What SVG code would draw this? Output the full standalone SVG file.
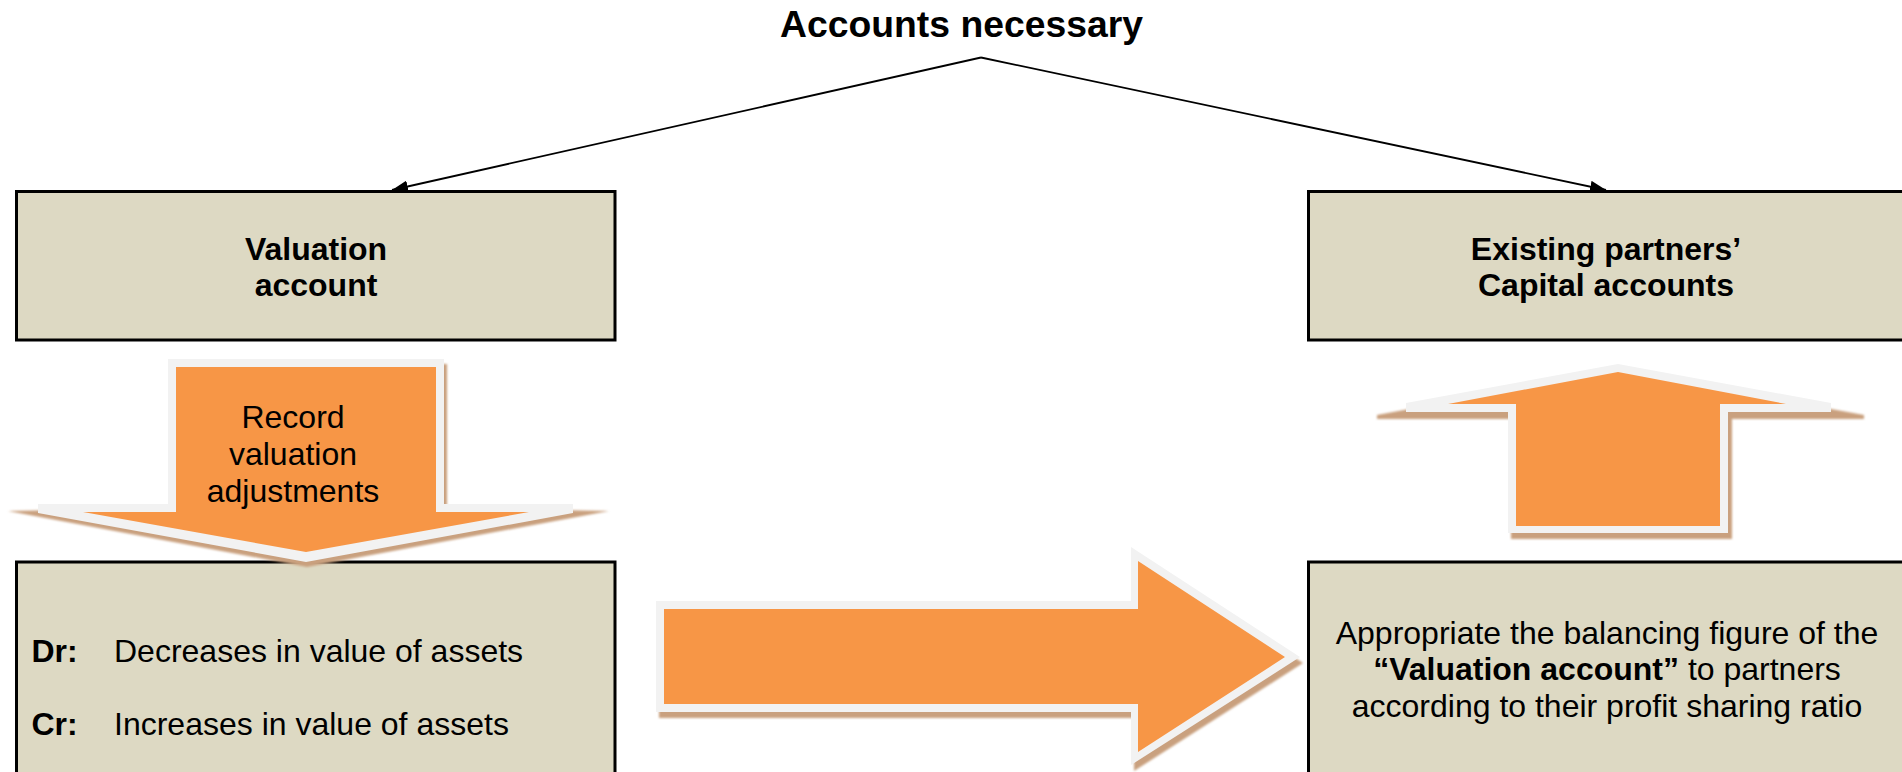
<svg xmlns="http://www.w3.org/2000/svg" width="1902" height="772" viewBox="0 0 1902 772">
  <style>
    text { font-family: "Liberation Sans", Arial, sans-serif; fill: #000; }
    .title { font-size: 37.3px; font-weight: bold; }
    .head { font-size: 32px; font-weight: bold; }
    .body { font-size: 32px; }
    .b { font-weight: bold; }
    .box { fill: #DDD9C3; stroke: #000; stroke-width: 3; }
    .conn { fill: none; stroke: #000; stroke-width: 1.8; }
    .shadow { fill: #C9A07E; filter: url(#soft); }
    .rim { fill: #F2F2F2; }
    .orange { fill: #F79646; }
  </style>
  <defs>
    <marker id="arrowhead" viewBox="0 0 16 12" refX="16" refY="6" markerWidth="16" markerHeight="12" markerUnits="userSpaceOnUse" orient="auto">
      <path d="M0,0 L16,6 L0,12 z" fill="#000"/>
    </marker>
    <filter id="soft" x="-10%" y="-10%" width="120%" height="120%">
      <feGaussianBlur stdDeviation="1.3"/>
    </filter>
  </defs>

  <rect width="1902" height="772" fill="#fff"/>

  <g id="title">
    <text class="title" x="961.5" y="36.5" text-anchor="middle">Accounts necessary</text>
  </g>

  <g id="connectors">
    <line class="conn" x1="981" y1="57.5" x2="392" y2="190" marker-end="url(#arrowhead)"/>
    <line class="conn" x1="981" y1="57.5" x2="1606" y2="190" marker-end="url(#arrowhead)"/>
  </g>

  <g id="valuation-account">
    <rect class="box" x="16.5" y="191.5" width="598.5" height="148.5"/>
    <text class="head" x="316" y="259.5" text-anchor="middle">Valuation</text>
    <text class="head" x="316" y="296" text-anchor="middle">account</text>
  </g>

  <g id="capital-accounts">
    <rect class="box" x="1308.5" y="191.5" width="598" height="148.5"/>
    <text class="head" x="1606" y="259.5" text-anchor="middle">Existing partners’</text>
    <text class="head" x="1606" y="296" text-anchor="middle">Capital accounts</text>
  </g>

  <g id="valuation-details">
    <rect class="box" x="16.5" y="562" width="598.5" height="240"/>
    <text class="body b" x="31.5" y="661.5">Dr:</text>
    <text class="body" x="114" y="661.5">Decreases in value of assets</text>
    <text class="body b" x="31.5" y="735">Cr:</text>
    <text class="body" x="114" y="735">Increases in value of assets</text>
  </g>

  <g id="appropriate">
    <rect class="box" x="1308.5" y="562" width="598" height="240"/>
    <text class="body" x="1607" y="643.5" text-anchor="middle">Appropriate the balancing figure of the</text>
    <text class="body" x="1607" y="680" text-anchor="middle"><tspan class="b">“Valuation account”</tspan> to partners</text>
    <text class="body" x="1607" y="716.5" text-anchor="middle">according to their profit sharing ratio</text>
  </g>

  <g id="arrow-record">
    <polygon class="shadow" points="172,364 447,364 447,508 609,511 307,567 8,511 172,508"/>
    <polygon class="rim" points="168,359 444,359 444,504 573,504 573,513 306,562 38,513 38,504 168,504"/>
    <polygon class="orange" points="176,367 436,367 436,512 529,512 306,552 83,512 176,512"/>
    <text class="body" x="293" y="427.5" text-anchor="middle">Record</text>
    <text class="body" x="293" y="465" text-anchor="middle">valuation</text>
    <text class="body" x="293" y="501.5" text-anchor="middle">adjustments</text>
  </g>

  <g id="arrow-transfer">
    <polygon class="shadow" points="659,607 1134,607 1134,553 1303,663 1134,771 1134,718 659,718"/>
    <polygon class="rim" points="656,601 1131,601 1131,547 1300,657 1131,765 1131,712 656,712"/>
    <polygon class="orange" points="664,609 1138,609 1138,561 1285,657 1138,752 1138,704 664,704"/>
  </g>

  <g id="arrow-up">
    <polygon class="shadow" points="1618,370 1864,415 1864,419 1732,419 1732,539 1511,539 1511,419 1377,419 1377,415"/>
    <polygon class="rim" points="1618,364 1831,403 1831,412 1728,412 1728,533 1508,533 1508,412 1406,412 1406,403"/>
    <polygon class="orange" points="1618,372 1786,404 1720,404 1720,526 1516,526 1516,404 1448,404"/>
  </g>
</svg>
